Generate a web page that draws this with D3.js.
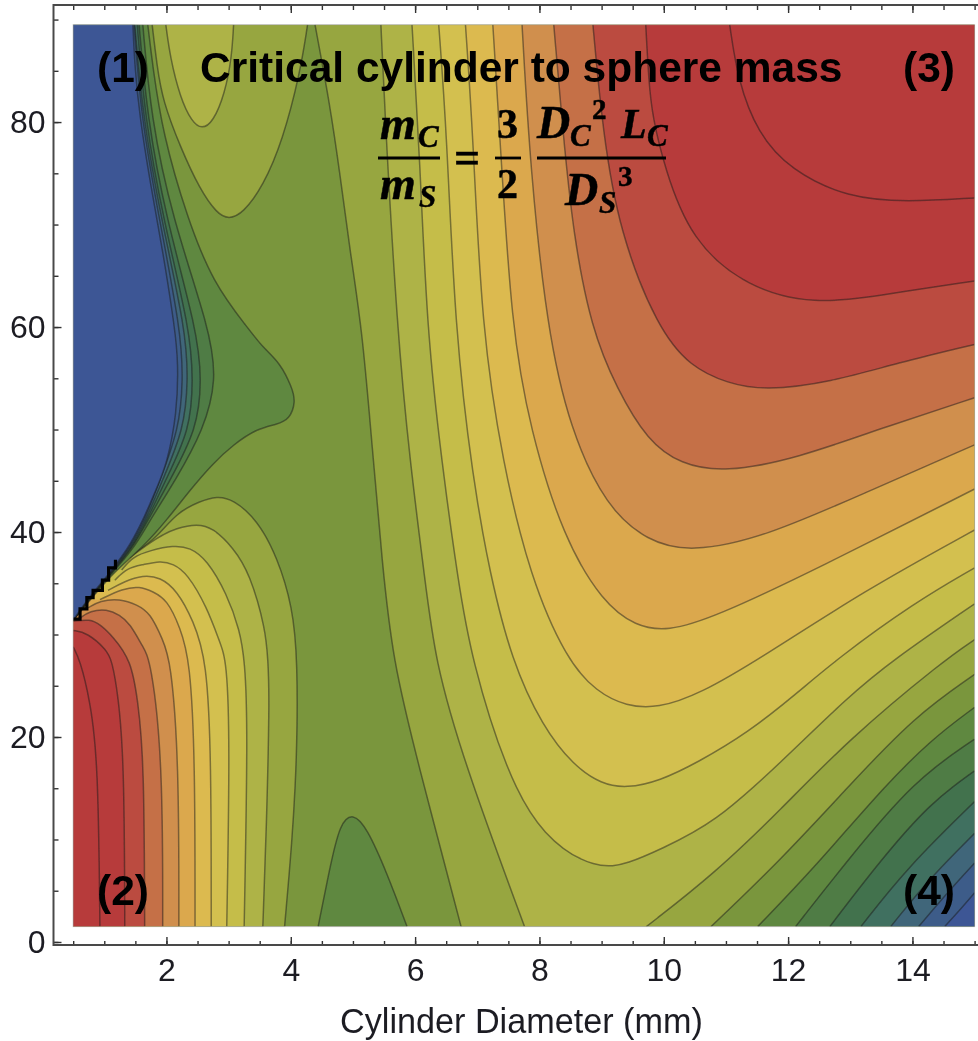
<!DOCTYPE html>
<html>
<head>
<meta charset="utf-8">
<script src="https://cdn.jsdelivr.net/npm/d3@7"></script>
<style>
  body { margin: 0; background: #fff; }
  svg { display: block; }
  .tick text { font-family: "Liberation Sans", Arial, sans-serif; font-size: 32px; fill: #1c1c24; }
</style>
</head>
<body>
<svg width="978" height="1041"></svg>
<script>
// contour traces, [cylinder diameter, y value]
// upper left ridge, levels 1 to 7 (level 1 borders the blue)
var ridge1 = [[1.46,89.5],[1.49,85.4],[1.57,80.5],[1.74,74.0],[1.94,67.5],[2.14,59.7],[2.19,56.5],[2.17,51.6],[2.01,46.7],[1.85,44.4],[1.65,41.5],[1.41,38.7],[1.28,37.6],[1.06,35.8],[0.82,34.1],[0.61,32.4],[0.5,31.4]];
var ridge2 = [[1.48,89.5],[1.59,80.5],[1.88,70.7],[2.23,59.7],[2.27,54.8],[2.20,50.0],[1.90,45.1],[1.65,41.2],[1.41,38.5],[1.07,35.8],[0.76,33.7],[0.5,31.4]];
var ridge3 = [[1.49,89.5],[1.62,80.5],[1.91,70.7],[2.31,59.7],[2.35,54.8],[2.28,50.0],[1.94,45.1],[1.67,41.2],[1.43,38.5],[1.08,35.8],[0.77,33.7],[0.5,31.4]];
var ridge4 = [[1.53,89.5],[1.65,80.5],[1.94,70.7],[2.38,59.7],[2.43,54.8],[2.38,50.0],[1.99,45.1],[1.69,41.2],[1.45,38.5],[1.08,35.8],[0.78,33.7],[0.5,31.4]];
var ridge5 = [[1.56,89.5],[1.69,80.5],[1.99,70.7],[2.49,59.7],[2.57,54.8],[2.49,50.0],[2.06,45.1],[1.71,41.2],[1.46,38.5],[1.09,35.8],[0.79,33.7],[0.5,31.4]];
var ridge6 = [[1.62,89.5],[1.75,80.5],[2.09,70.7],[2.70,59.7],[2.81,54.8],[2.60,50.0],[2.15,45.1],[1.74,41.2],[1.49,38.5],[1.10,35.8],[0.80,33.7],[0.5,31.4]];
var ridge7 = [[1.70,89.5],[1.78,85.4],[1.94,78.9],[2.33,70.7],[2.75,64.3],[3.31,59.9],[3.55,58.0],[3.83,56.5],[4.02,54.1],[4.08,52.7],[3.98,51.0],[3.78,50.5],[3.46,50.1],[3.07,48.5],[2.75,46.7],[2.38,44.1],[2.01,41.2],[1.62,38.5],[1.14,36.0],[0.82,33.7],[0.61,32.2],[0.5,31.4]];
var stairs = [[0.5,31.5],[0.61,32.5],[0.72,33.6],[0.82,34.3],[0.97,35.3],[1.07,36.5],[1.18,37.3]];

// bottom right corner, levels 1 to 7, plus the little level 7 hill at the bottom
var corner1 = [[14.52,1.5],[14.76,3.1],[15,4.8]];
var corner2 = [[14.10,1.5],[14.56,4.8],[15,7.7]];
var corner3 = [[13.65,1.5],[14.29,6.3],[15,10.6]];
var corner4 = [[13.17,1.5],[13.92,7.3],[15,13.7]];
var corner5 = [[12.67,1.5],[13.49,8.0],[14.29,13.6],[15,16.7]];
var corner6 = [[12.12,1.5],[12.96,8.0],[14.03,15.8],[15,19.8]];
var corner7 = [[11.51,1.5],[12.43,7.3],[13.49,14.8],[14.29,19.7],[15,22.9]];
var hill7 = [[4.44,1.5],[4.63,7.3],[4.79,11.6],[5.0,12.6],[5.22,11.2],[5.55,6.7],[5.87,1.5]];

// the two pockets at the top
var pocket8 = [[1.77,89.5],[1.85,85.4],[1.94,82.1],[2.22,77.6],[2.54,73.4],[2.81,71.1],[3.0,70.5],[3.23,71.1],[3.55,73.7],[3.87,78.2],[4.15,84.8],[4.27,89.5]];
var pocket9 = [[1.99,89.5],[2.06,86.3],[2.22,82.4],[2.41,80.0],[2.57,79.3],[2.75,80.0],[2.94,82.8],[3.05,86.3],[3.08,89.5]];

// middle of the plot, levels 8 to 18
var middle8 = [[4.39,89.5],[4.63,81.7],[4.79,75.0],[4.95,67.5],[5.15,59.7],[5.31,48.3],[5.47,37.0],[5.64,27.5],[6.03,17.8],[6.74,1.5]];
var lower8 = [[10.76,1.5],[11.88,8.0],[12.96,15.1],[14.03,22.0],[15,26.1]];
var middle9 = [[5.45,89.5],[5.51,81.2],[5.71,59.7],[5.92,46.7],[6.16,35.3],[6.32,27.5],[6.77,17.8],[7.76,1.5]];
var lower9 = [[9.72,1.5],[10.82,6.7],[11.88,12.9],[12.96,19.7],[14.51,27.5],[15,29.5]];
var middle10 = [[5.95,89.5],[6.08,76.0],[6.19,59.7],[6.43,46.7],[6.69,35.3],[6.91,27.5],[7.47,16.5],[8.05,10.2],[8.92,7.0],[9.45,7.7],[9.93,9.0],[10.82,11.6],[11.88,17.5],[12.96,23.9],[13.68,27.5],[15,33.0]];
var middle11 = [[6.38,89.5],[6.51,78.9],[6.64,59.7],[6.93,45.1],[7.2,36.0],[7.55,27.5],[8.05,21.0],[8.55,17.2],[9.0,15.4],[9.4,15.0],[9.93,15.7],[10.54,17.5],[11.35,20.4],[12.15,24.3],[12.76,27.5],[14.03,33.1],[15,36.5]];
var middle12 = [[6.81,89.5],[6.93,78.9],[7.07,59.7],[7.41,46.7],[7.85,35.6],[8.44,27.5],[8.92,24.4],[9.4,23.0],[9.9,22.8],[10.58,24.2],[11.56,27.7],[13.23,34.3],[15,40.2]];
var middle13 = [[7.25,89.5],[7.36,78.9],[7.55,59.9],[7.85,50.0],[8.38,39.5],[9.02,33.1],[9.55,30.8],[10.06,30.3],[10.82,31.7],[12.43,36.3],[15,44.2]];
var middle14 = [[7.72,89.5],[7.85,75.6],[8.12,59.9],[8.49,50.0],[9.08,42.4],[9.74,39.1],[10.43,38.0],[11.62,39.5],[13.23,43.8],[15,48.5]];
var middle15 = [[8.23,89.5],[8.38,78.9],[8.54,69.2],[8.83,59.9],[9.25,53.9],[9.74,48.9],[10.27,46.6],[10.98,45.8],[12.15,47.2],[13.49,50.1],[15,53.1]];
var middle16 = [[8.86,89.5],[9.02,78.9],[9.29,69.2],[9.90,59.9],[10.43,56.1],[11.03,54.5],[11.62,53.8],[12.68,54.6],[13.76,56.5],[15,58.3]];
var middle17 = [[9.71,89.5],[9.76,83.8],[9.82,80.5],[10.01,75.6],[10.43,68.5],[11.35,63.8],[12.43,62.2],[13.49,63.1],[15,64.5]];
var middle18 = [[11.06,89.5],[11.19,84.1],[11.51,78.9],[12.04,75.3],[12.96,72.6],[13.92,72.2],[15,72.6]];

// arcs round the lower left hill, levels 8 to 18
var arc8 = [[1.49,37.9],[1.85,39.5],[2.17,41.9],[2.54,43.0],[2.81,43.5],[3.07,43.2],[3.46,41.2],[3.78,37.6],[4.03,32.7],[4.11,27.5],[4.1,17.8],[4.02,9.7],[3.9,1.5]];
var arc9 = [[1.41,37.5],[1.85,39.5],[2.17,40.4],[2.49,40.8],[2.75,40.4],[3.07,38.5],[3.34,36.0],[3.60,30.4],[3.63,27.5],[3.66,24.3],[3.61,11.2],[3.55,1.5]];
var arc10 = [[1.28,36.3],[1.46,37.6],[1.74,38.2],[2.11,38.7],[2.38,38.5],[2.65,37.3],[2.97,34.0],[3.18,30.4],[3.26,27.5],[3.31,21.0],[3.25,1.5]];
var arc11 = [[1.17,35.3],[1.37,36.5],[1.62,36.8],[1.9,37.2],[2.11,36.9],[2.33,36.0],[2.65,32.7],[2.86,29.2],[2.97,27.5],[3.02,19.4],[2.97,1.5]];
var arc12 = [[1.06,34.3],[1.33,35.2],[1.62,35.8],[1.9,35.6],[2.17,34.3],[2.43,31.4],[2.65,27.5],[2.72,17.8],[2.72,1.5]];
var arc13 = [[0.93,33.4],[1.3,34.5],[1.57,34.7],[1.78,34.2],[2.01,33.4],[2.22,30.7],[2.38,27.5],[2.46,17.8],[2.46,1.5]];
var arc14 = [[0.74,32.6],[0.93,33.3],[1.25,33.5],[1.53,32.9],[1.74,32.1],[1.94,29.5],[2.07,27.5],[2.2,17.8],[2.2,1.5]];
var arc15 = [[0.61,31.6],[0.77,32.3],[1.04,32.5],[1.25,31.9],[1.41,31.1],[1.62,28.8],[1.75,27.5],[1.94,17.8],[1.94,1.5]];
var arc16 = [[0.5,31.3],[0.77,31.5],[0.93,31.0],[1.14,29.8],[1.43,27.5],[1.54,23.6],[1.64,17.8],[1.65,1.5]];
var arc17 = [[0.5,30.4],[0.72,30.2],[1.04,28.5],[1.12,27.5],[1.22,24.3],[1.32,17.8],[1.33,1.5]];
var arc18 = [[0.5,28.8],[0.61,27.5],[0.77,23.6],[0.9,17.8],[0.93,1.5]];

var xMajor = [2, 4, 6, 8, 10, 12, 14];
var xMinor = d3.range(0.5, 15.01, 0.5);
var yMajor = [0, 20, 40, 60, 80];
var yMinor = d3.range(0, 90.01, 5);

var bandColors = ["#3d5795", "#3e5c89", "#40667a", "#416f60", "#42724e", "#4f7c44", "#5f883f", "#7a963e", "#97a640", "#aeb347",
                  "#c5bd4a", "#d3c04f", "#dcba50", "#dba84e", "#d08f4d", "#c56f47", "#bb4b3f", "#b73b3b", "#b73a3b"];

var tl = [0.5, 89.5], tr = [15, 89.5], bl = [0.5, 1.5], br = [15, 1.5];

// painted in this order, later ones cover the earlier
var layers = [
	{lines: [hill7], corners: [], band: 6},
	{lines: [corner7], corners: [br], band: 6},
	{lines: [corner6], corners: [br], band: 5},
	{lines: [corner5], corners: [br], band: 4},
	{lines: [corner4], corners: [br], band: 3},
	{lines: [corner3], corners: [br], band: 2},
	{lines: [corner2], corners: [br], band: 1},
	{lines: [corner1], corners: [br], band: 0},
	{lines: [pocket8], corners: [], band: 8},
	{lines: [pocket9], corners: [], band: 9},
	{lines: [middle8, lower8], corners: [tr], band: 8},
	{lines: [middle9, lower9], corners: [tr], band: 9},
	{lines: [middle10], corners: [tr], band: 10},
	{lines: [middle11], corners: [tr], band: 11},
	{lines: [middle12], corners: [tr], band: 12},
	{lines: [middle13], corners: [tr], band: 13},
	{lines: [middle14], corners: [tr], band: 14},
	{lines: [middle15], corners: [tr], band: 15},
	{lines: [middle16], corners: [tr], band: 16},
	{lines: [middle17], corners: [tr], band: 17},
	{lines: [middle18], corners: [tr], band: 18},
	{lines: [arc8], corners: [bl, [0.5, arc8[0][1]]], band: 8},
	{lines: [arc9], corners: [bl, [0.5, arc9[0][1]]], band: 9},
	{lines: [arc10], corners: [bl, [0.5, arc10[0][1]]], band: 10},
	{lines: [arc11], corners: [bl, [0.5, arc11[0][1]]], band: 11},
	{lines: [arc12], corners: [bl, [0.5, arc12[0][1]]], band: 12},
	{lines: [arc13], corners: [bl, [0.5, arc13[0][1]]], band: 13},
	{lines: [arc14], corners: [bl, [0.5, arc14[0][1]]], band: 14},
	{lines: [arc15], corners: [bl, [0.5, arc15[0][1]]], band: 15},
	{lines: [arc16], corners: [bl], band: 16},
	{lines: [arc17], corners: [bl], band: 17},
	{lines: [arc18], corners: [bl], band: 18},
	{lines: [ridge7], corners: [tl], band: 6},
	{lines: [ridge6], corners: [tl], band: 5},
	{lines: [ridge5], corners: [tl], band: 4},
	{lines: [ridge4], corners: [tl], band: 3},
	{lines: [ridge3], corners: [tl], band: 2},
	{lines: [ridge2], corners: [tl], band: 1},
	{lines: [ridge1], corners: [tl], band: 0}
];

var svg = d3.select("svg");
var defs = svg.append("defs");

// the reference is a slightly soft screenshot
defs.append("filter").attr("id", "soft")
	.attr("filterUnits", "userSpaceOnUse")
	.attr("x", 0).attr("y", 0).attr("width", 978).attr("height", 1041)
  .append("feGaussianBlur").attr("stdDeviation", 0.55);

var root = svg.append("g").attr("filter", "url(#soft)");

var x = d3.scaleLinear().domain([0.5, 15]).range([73.2, 974.6]);
var y = d3.scaleLinear().domain([1.5, 89.5]).range([926.6, 24.7]);

defs.append("clipPath").attr("id", "plot")
  .append("rect")
	.attr("x", x(0.5)).attr("y", y(89.5))
	.attr("width", x(15) - x(0.5)).attr("height", y(1.5) - y(89.5));

var line = d3.line()
	.curve(d3.curveBasis)
	.x(function(d) { return x(d[0]); })
	.y(function(d) { return y(d[1]); });

var plot = root.append("g").attr("clip-path", "url(#plot)");

plot.append("rect")
	.attr("x", x(0.5)).attr("y", y(89.5))
	.attr("width", x(15) - x(0.5)).attr("height", y(1.5) - y(89.5))
	.attr("fill", bandColors[7]);

layers.forEach(function(layer) {
	var fillPath = layer.lines.map(function(l, i) {
		var p = line(l);
		return i == 0 ? p : "L" + p.slice(1);
	}).join("");
	layer.corners.forEach(function(c) {
		fillPath += "L" + x(c[0]) + "," + y(c[1]);
	});
	plot.append("path")
		.attr("d", fillPath + "Z")
		.attr("fill", bandColors[layer.band]);
	plot.append("path")
		.attr("d", layer.lines.map(line).join(""))
		.attr("fill", "none")
		.attr("stroke", "#1a1a1a")
		.attr("stroke-opacity", 0.48)
		.attr("stroke-width", 1.5);
});

// black steps where the mesh runs out along the ridge
plot.append("path")
	.attr("d", d3.line().curve(d3.curveStepAfter)
		.x(function(d) { return x(d[0]); })
		.y(function(d) { return y(d[1]); })(stairs))
	.attr("fill", "none")
	.attr("stroke", "#000")
	.attr("stroke-width", 3.2);

root.append("rect")
	.attr("x", x(0.5)).attr("y", y(89.5))
	.attr("width", x(15) - x(0.5)).attr("height", y(1.5) - y(89.5))
	.attr("fill", "none")
	.attr("stroke", "#999")
	.attr("stroke-opacity", 0.6)
	.attr("stroke-width", 1);

// axes, ticks point into the frame
var frameLeft = 53.5, frameTop = 5, frameBottom = 945, frameRight = 978;

function axisStyle(g) {
	g.select(".domain").remove();
	g.selectAll(".tick line").attr("stroke", "#333").attr("stroke-width", 1.4);
}

root.append("g").attr("transform", "translate(" + frameLeft + ",0)")
	.call(d3.axisLeft(y).tickValues(yMinor).tickSize(-5).tickFormat(""))
	.call(axisStyle);
root.append("g").attr("transform", "translate(" + frameLeft + ",0)")
	.call(d3.axisLeft(y).tickValues(yMajor).tickSize(-8).tickPadding(8))
	.call(axisStyle);
root.append("g").attr("transform", "translate(0," + frameBottom + ")")
	.call(d3.axisBottom(x).tickValues(xMinor).tickSize(-4).tickFormat(""))
	.call(axisStyle);
root.append("g").attr("transform", "translate(0," + frameBottom + ")")
	.call(d3.axisBottom(x).tickValues(xMajor).tickSize(-8).tickPadding(13))
	.call(axisStyle);
root.append("g").attr("transform", "translate(0," + frameTop + ")")
	.call(d3.axisTop(x).tickValues(xMinor).tickSize(-5).tickFormat(""))
	.call(axisStyle);
root.append("g").attr("transform", "translate(0," + frameTop + ")")
	.call(d3.axisTop(x).tickValues(xMajor).tickSize(-8).tickFormat(""))
	.call(axisStyle);

root.append("path")
	.attr("d", "M" + frameRight + "," + frameTop + "H" + frameLeft + "V" + frameBottom + "H" + frameRight)
	.attr("fill", "none")
	.attr("stroke", "#4a4a4a")
	.attr("stroke-width", 2);

root.append("text")
	.attr("x", 340).attr("y", 1033)
	.attr("font-family", "Liberation Sans, Arial, sans-serif")
	.attr("font-size", 34.2)
	.attr("fill", "#1c1c24")
	.text("Cylinder Diameter (mm)");

// labels on top of the plot
var labels = [
	["(1)", 97, 82], ["(3)", 903, 82], ["(2)", 97, 905], ["(4)", 903, 905],
	["Critical cylinder to sphere mass", 200, 82]
];
root.selectAll(".label").data(labels).enter().append("text")
	.attr("class", "label")
	.attr("x", function(d) { return d[1]; })
	.attr("y", function(d) { return d[2]; })
	.attr("font-family", "Liberation Sans, Arial, sans-serif")
	.attr("font-weight", "bold")
	.attr("font-size", 42.5)
	.attr("fill", "#000")
	.text(function(d) { return d[0]; });

// the mass ratio formula: text, x, baseline, size, italic
var formula = [
	["m", 380, 139, 46, true], ["C", 418, 147, 31, true],
	["m", 380, 199, 46, true], ["S", 419, 207, 31, true],
	["=", 454, 173, 46, false],
	["3", 497, 138, 42, false], ["2", 497, 198, 42, false],
	["D", 537, 138, 46, true], ["C", 570, 146, 31, true], ["2", 592, 119, 29, false],
	["L", 621, 138, 42, true], ["C", 647, 146, 31, true],
	["D", 565, 205, 46, true], ["S", 599, 213, 31, true], ["3", 618, 186, 29, false]
];
root.selectAll(".formula").data(formula).enter().append("text")
	.attr("class", "formula")
	.attr("x", function(d) { return d[1]; })
	.attr("y", function(d) { return d[2]; })
	.attr("font-family", "Liberation Serif, serif")
	.attr("font-weight", "bold")
	.attr("font-style", function(d) { return d[4] ? "italic" : "normal"; })
	.attr("font-size", function(d) { return d[3]; })
	.attr("fill", "#000")
	.attr("stroke", "#000")
	.attr("stroke-width", 0.5)
	.text(function(d) { return d[0]; });

var fractionBars = [[378, 440], [495, 521], [537, 666]];
root.selectAll(".bar").data(fractionBars).enter().append("line")
	.attr("class", "bar")
	.attr("x1", function(d) { return d[0]; })
	.attr("x2", function(d) { return d[1]; })
	.attr("y1", 158).attr("y2", 158)
	.attr("stroke", "#000")
	.attr("stroke-width", 2.8);
</script>
</body>
</html>
